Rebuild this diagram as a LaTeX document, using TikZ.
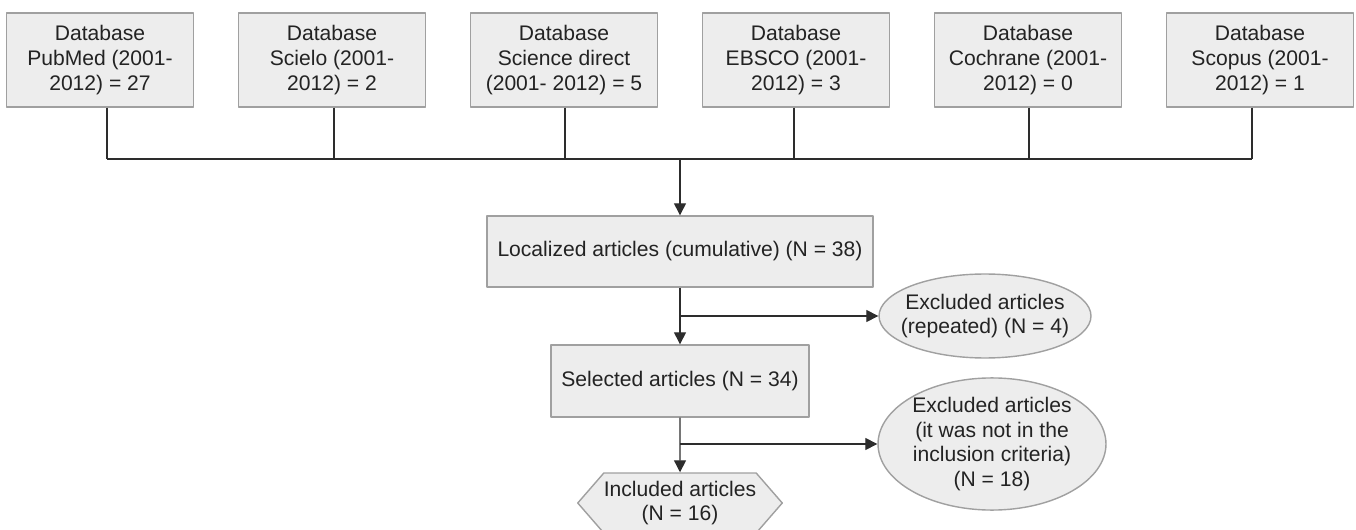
\documentclass[tikz,border=0pt]{standalone}
\usepackage{fontspec}
\setmainfont{Liberation Sans}
\usetikzlibrary{arrows.meta,shapes.geometric,shapes.symbols}
\definecolor{boxfill}{RGB}{237,237,237}
\definecolor{boxline}{RGB}{160,160,160}
\definecolor{linkline}{RGB}{45,45,45}
\definecolor{txtgray}{RGB}{35,35,35}
\begin{document}
\begin{tikzpicture}[x=0.02cm, y=-0.02cm, font=\fontsize{12}{14}\selectfont, line join=round,
		>={Triangle[length=0.24cm,width=0.24cm]},
		dbbox/.style={draw=boxline, fill=boxfill, text=txtgray, line width=.8pt, minimum width=3.74cm, minimum height=1.88cm, align=center, inner sep=0pt},
		flowbox/.style={draw=boxline, fill=boxfill, text=txtgray, line width=.8pt, align=center, inner sep=0pt},
		exclbox/.style={ellipse, draw=boxline, fill=boxfill, text=txtgray, line width=.8pt, align=center, inner sep=0pt},
		inclbox/.style={signal, signal to=west and east, signal pointer angle=98, draw=boxline, fill=boxfill, text=txtgray, line width=.8pt, align=center, inner sep=0pt},
		link/.style={draw=linkline, line width=.75pt}]
	\useasboundingbox (0,0) rectangle (1356,530);
	% databases and the bus under them
	\foreach \i/\x/\dx/\lbl in {1/100/7/{Database\\PubMed (2001-\\2012) = 27},
		2/332/2/{Database\\Scielo (2001-\\2012) = 2},
		3/564/1/{Database\\Science direct\\(2001- 2012) = 5},
		4/796/-2/{Database\\EBSCO (2001-\\2012) = 3},
		5/1028/1/{Database\\Cochrane (2001-\\2012) = 0},
		6/1260/-8/{Database\\Scopus (2001-\\2012) = 1}}{
		\node[dbbox] (db\i) at (\x,60) {\lbl};
		\coordinate (bus\i) at (\x+\dx,159);
		\draw[link] (db\i.south -| bus\i) -- (bus\i);
	}
	\draw[link] (bus1) -- (bus6);
	\coordinate (merge) at (680,159);
	% flow
	\node[flowbox, minimum width=7.72cm, minimum height=1.42cm] (loc) at (680,251.5) {Localized articles (cumulative) (N = 38)};
	\node[flowbox, minimum width=5.16cm, minimum height=1.44cm] (sel) at (680,381) {Selected articles (N = 34)};
	\node[inclbox, minimum width=3.84cm, minimum height=1.2cm] (inc) at (680,503) {Included articles\\(N = 16)};
	\node[exclbox, minimum width=4.24cm, minimum height=1.68cm, inner xsep=-0.22cm] (ex1) at (985,316) {Excluded articles\\(repeated) (N = 4)};
	\node[exclbox, minimum width=4.56cm, minimum height=2.6cm] (ex2) at (992,444) {Excluded articles\\(it was not in the\\inclusion criteria)\\(N = 18)};
	\coordinate (split1) at (680,316);
	\coordinate (split2) at (680,444);
	\draw[link,->] (merge) -- (loc.north);
	\draw[link,->] (loc) -- (sel);
	\draw[link,->] (split1) -- (ex1.west);
	\draw[link,->] (sel) -- (inc);
	\draw[link,->] (split2) -- (ex2.west);
\end{tikzpicture}
\end{document}
